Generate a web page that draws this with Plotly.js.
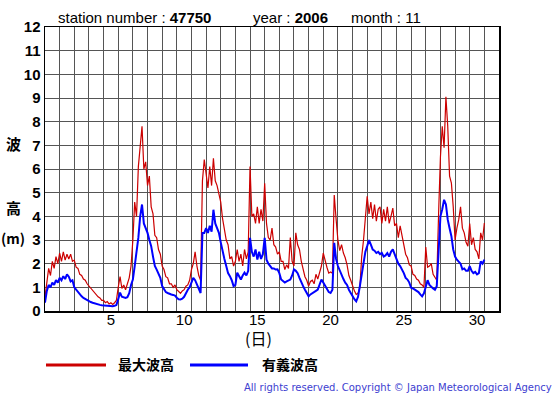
<!DOCTYPE html>
<html>
<head>
<meta charset="utf-8">
<script src="https://cdn.plot.ly/plotly-3.0.1.min.js"></script>
<style>
  html, body { margin: 0; padding: 0; background: #fff; }
  #chart { width: 555px; height: 395px; }
</style>
</head>
<body>
<div id="chart"></div>
<script>
// 3-hourly readings, November 2006, station 47750 (days elapsed from Nov 1 00:00)
const stepHours = 3;
const maxWave = [
  0.6, 1.3, 1.8, 1.5, 2.1, 1.8, 2.3, 2.0,
  2.45, 2.1, 2.5, 2.15, 2.4, 2.2, 2.4, 2.1,
  2.15, 1.85, 1.8, 1.55, 1.5, 1.35, 1.3, 1.15,
  1.05, 0.95, 0.85, 0.75, 0.7, 0.6, 0.55, 0.45,
  0.45, 0.35, 0.4, 0.3, 0.35, 0.28, 0.35, 0.45,
  1.0, 1.45, 0.95, 1.1, 0.9, 1.2, 1.4, 1.9,
  3.0, 4.6, 4.0, 6.1, 6.9, 7.8, 6.0, 6.3,
  5.3, 5.7, 4.4, 4.1, 3.2, 3.1, 2.6, 2.4,
  1.9, 1.75, 1.45, 1.4, 1.15, 1.15, 1.0, 1.1,
  0.9, 0.8, 0.75, 0.85, 0.9, 1.05, 1.1, 1.3,
  1.75, 2.0, 2.5, 1.9, 1.5, 1.3, 5.5, 6.4,
  5.8, 5.2, 6.1, 5.3, 6.45, 5.5, 5.3, 4.9,
  4.6, 3.9, 3.5, 3.0, 2.8, 2.2, 2.3, 1.9,
  2.1, 2.6, 2.1, 2.4, 1.9, 2.6, 2.2, 2.5,
  6.1, 4.0, 4.1, 3.7, 4.4, 3.7, 4.3, 3.8,
  5.4, 3.7, 3.1, 3.0, 3.5, 2.8, 2.7, 2.4,
  2.5, 2.1, 2.1, 1.75, 1.95, 1.8, 3.1, 2.1,
  1.9, 3.3, 2.8, 2.6, 2.1, 1.8, 1.45, 1.3,
  1.05, 1.25, 1.3, 1.15, 1.55, 1.35, 1.65, 1.9,
  2.45, 2.1, 1.85, 1.6, 1.65, 1.6, 4.9, 3.9,
  3.0, 2.55, 2.8, 2.45, 2.25, 1.95, 1.5, 1.3,
  1.05, 0.85, 0.7, 0.75, 1.0, 2.3, 3.0, 4.15,
  4.85, 4.1, 4.6, 3.9, 4.5, 3.8, 4.3, 4.4,
  3.7, 4.3, 3.8, 4.4, 3.7, 4.0, 4.35, 3.6,
  3.7, 3.1, 3.6, 3.2, 2.75, 2.4, 2.25, 1.95,
  1.9, 1.55, 1.5, 1.35, 1.3, 1.15, 1.1, 1.0,
  2.7, 1.85, 1.9, 2.0, 1.55, 1.45, 1.3, 4.1,
  6.5, 7.8, 6.9, 9.05, 7.8, 5.7, 5.4, 4.4,
  3.0, 3.5, 3.86, 4.4, 3.5, 3.3, 2.9, 2.74,
  3.7, 2.8, 3.1, 2.6, 2.5, 2.2, 3.3, 3.0,
  3.72
];
const sigWave = [
  0.35, 0.85, 1.1, 1.0, 1.2, 1.1, 1.3, 1.2,
  1.4, 1.3, 1.47, 1.35, 1.55, 1.45, 1.25, 1.3,
  1.0, 0.9, 0.78, 0.7, 0.62, 0.55, 0.5, 0.45,
  0.41, 0.38, 0.35, 0.32, 0.3, 0.28, 0.26, 0.24,
  0.23, 0.22, 0.2, 0.21, 0.2, 0.2, 0.22, 0.25,
  0.5, 0.78, 0.6, 0.57, 0.55, 0.58, 0.75, 1.1,
  1.33, 1.9, 2.46, 3.1, 4.0, 4.5, 3.7, 3.5,
  3.3, 3.0, 2.74, 2.3, 1.9, 1.75, 1.6, 1.4,
  1.05, 0.95, 0.8, 0.76, 0.72, 0.7, 0.68, 0.65,
  0.56, 0.5, 0.49, 0.52, 0.6, 0.76, 0.9, 1.0,
  1.19, 1.4, 1.3, 1.1, 0.9, 0.76, 3.3, 3.3,
  3.5, 3.3, 3.6, 3.35, 4.28, 3.7, 3.5, 3.3,
  2.9, 2.46, 2.2, 1.9, 1.6, 1.47, 1.3, 1.05,
  1.1, 1.62, 1.45, 1.33, 1.5, 1.62, 1.5, 1.7,
  3.09, 2.5, 2.3, 2.6, 2.17, 2.5, 2.2, 2.4,
  3.09, 2.17, 2.0, 1.9, 1.8, 1.8, 1.75, 1.76,
  1.6, 1.33, 1.25, 1.2, 1.25, 1.3, 1.33, 1.5,
  1.76, 1.7, 1.6, 1.4, 1.2, 1.05, 0.9, 0.75,
  0.62, 0.7, 0.76, 0.8, 0.85, 0.9, 1.1, 1.33,
  1.2, 1.05, 0.9, 0.8, 0.76, 0.9, 2.88, 2.2,
  1.9, 1.7, 1.47, 1.35, 1.2, 1.1, 0.9, 0.76,
  0.6, 0.5, 0.41, 0.6, 1.05, 1.6, 2.17, 2.5,
  2.74, 3.0, 2.8, 2.6, 2.55, 2.45, 2.5, 2.4,
  2.45, 2.3, 2.35, 2.45, 2.3, 2.5, 2.6, 2.4,
  2.17, 2.0, 1.9, 1.76, 1.6, 1.4, 1.33, 1.2,
  0.98, 0.95, 0.9, 0.84, 0.8, 0.7, 0.62, 0.75,
  0.98, 1.3, 1.1, 1.0, 0.95, 0.9, 1.05, 2.5,
  4.0, 4.3, 4.7, 4.5, 3.86, 3.5, 3.16, 2.6,
  2.3, 2.17, 2.1, 2.0, 1.76, 1.8, 1.7, 1.7,
  1.9, 1.7, 1.6, 1.65, 1.55, 1.6, 2.1, 2.0,
  2.17
];
const tickDays = [4.5, 9.5, 14.5, 19.5, 24.5, 29.5];
const tickLabels = ["5", "10", "15", "20", "25", "30"];
const seriesNames = ["最大波高", "有義波高"];

const t = maxWave.map((_, i) => i * stepHours / 24);

const traces = [
  { x: t, y: maxWave, type: "scatter", mode: "lines", name: seriesNames[0],
    line: { color: "#cc0000", width: 1.2 }, showlegend: false, hoverinfo: "skip" },
  { x: t, y: sigWave, type: "scatter", mode: "lines", name: seriesNames[1],
    line: { color: "#0000ff", width: 2 }, showlegend: false, hoverinfo: "skip" }
];

const W = 454, H = 284, L = 45, T = 27;
const px = v => (v - L) / W;
const py = v => (T + H - v) / H;

const annFont = { family: "Liberation Sans, Arial, sans-serif", size: 15, color: "#000" };
const cjk = "Noto Sans CJK JP, sans-serif";

const layout = {
  width: 555, height: 395,
  margin: { l: L, r: 555 - L - W, t: T, b: 395 - T - H, pad: 0 },
  paper_bgcolor: "#fff", plot_bgcolor: "#fff",
  showlegend: false,
  xaxis: {
    range: [0, 31], tickmode: "array", tickvals: tickDays, ticktext: tickLabels,
    showgrid: false, zeroline: false, ticks: "", ticklabelstandoff: -6,
    showline: true, linecolor: "#000", linewidth: 1.5, mirror: true,
    tickfont: { family: "Liberation Sans, Arial, sans-serif", size: 15, color: "#000" },
    minor: { tickmode: "linear", tick0: 0, dtick: 1, showgrid: true, gridcolor: "#555", gridwidth: 1, ticks: "" },
    fixedrange: true
  },
  yaxis: {
    range: [0, 12], dtick: 1, tick0: 0,
    showgrid: true, gridcolor: "#555", gridwidth: 1, zeroline: false, ticks: "",
    showline: true, linecolor: "#000", linewidth: 1.5, mirror: true,
    tickfont: { family: "Liberation Sans, Arial, sans-serif", size: 15, color: "#000", weight: "bold" },
    fixedrange: true
  },
  annotations: [
    { xref: "paper", yref: "paper", x: px(56), y: py(17), xanchor: "left", yanchor: "middle", showarrow: false,
      text: "station number : <b>47750</b>", font: annFont },
    { xref: "paper", yref: "paper", x: px(251), y: py(17), xanchor: "left", yanchor: "middle", showarrow: false,
      text: "year : <b>2006</b>", font: annFont },
    { xref: "paper", yref: "paper", x: px(349), y: py(17), xanchor: "left", yanchor: "middle", showarrow: false,
      text: "month : 11", font: annFont },
    { xref: "paper", yref: "paper", x: px(13), y: py(143), xanchor: "center", yanchor: "middle", showarrow: false,
      text: "<b>波</b>", font: { family: cjk, size: 15, color: "#000" } },
    { xref: "paper", yref: "paper", x: px(13), y: py(208), xanchor: "center", yanchor: "middle", showarrow: false,
      text: "<b>高</b>", font: { family: cjk, size: 15, color: "#000" } },
    { xref: "paper", yref: "paper", x: px(13), y: py(238), xanchor: "center", yanchor: "middle", showarrow: false,
      text: "<b>(m)</b>", font: { family: cjk, size: 14, color: "#000" } },
    { xref: "paper", yref: "paper", x: px(258), y: py(338), xanchor: "center", yanchor: "middle", showarrow: false,
      text: "(日)", font: { family: cjk, size: 16, color: "#000" } },
    { xref: "paper", yref: "paper", x: px(116), y: py(364), xanchor: "left", yanchor: "middle", showarrow: false,
      text: "<b>" + seriesNames[0] + "</b>", font: { family: cjk, size: 14, color: "#000" } },
    { xref: "paper", yref: "paper", x: px(260), y: py(364), xanchor: "left", yanchor: "middle", showarrow: false,
      text: "<b>" + seriesNames[1] + "</b>", font: { family: cjk, size: 14, color: "#000" } },
    { xref: "paper", yref: "paper", x: px(554), y: py(387), xanchor: "right", yanchor: "middle", showarrow: false,
      text: "All rights reserved. Copyright © Japan Meteorological Agency",
      font: { family: "DejaVu Sans, sans-serif", size: 10, color: "#4040d0" } }
  ],
  shapes: [
    { type: "line", xref: "paper", yref: "paper", x0: px(46), x1: px(106), y0: py(365), y1: py(365),
      line: { color: "#cc0000", width: 3 } },
    { type: "line", xref: "paper", yref: "paper", x0: px(190), x1: px(248), y0: py(365), y1: py(365),
      line: { color: "#0000ff", width: 3 } }
  ]
};

Plotly.newPlot("chart", traces, layout, { displayModeBar: false, staticPlot: true });
</script>
</body>
</html>
